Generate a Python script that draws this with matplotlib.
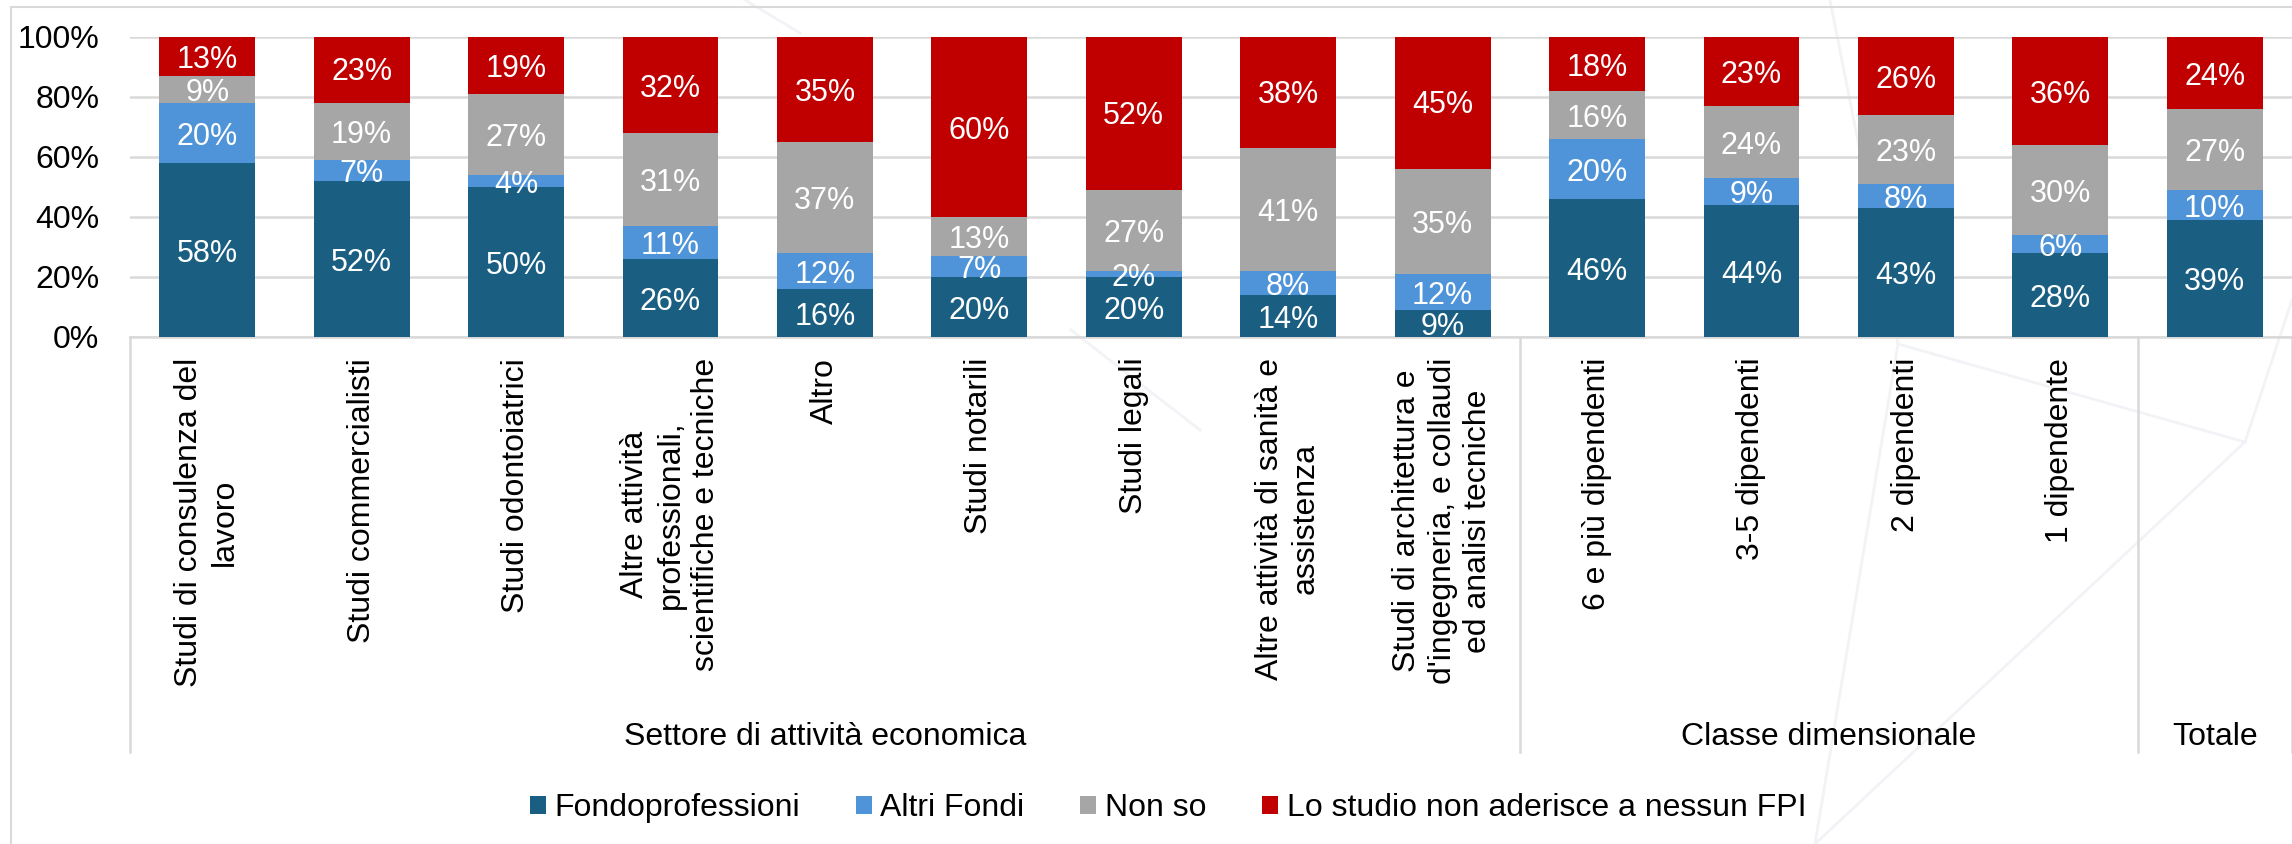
# librerie
import matplotlib.pyplot as plt
from matplotlib.patches import Rectangle
from matplotlib.lines import Line2D

plt.rcParams["font.family"] = ["Liberation Sans", "DejaVu Sans"]

# dati
categorie = [
    "Studi di consulenza del\nlavoro",
    "Studi commercialisti",
    "Studi odontoiatrici",
    "Altre attività\nprofessionali,\nscientifiche e tecniche",
    "Altro",
    "Studi notarili",
    "Studi legali",
    "Altre attività di sanità e\nassistenza",
    "Studi di architettura e\nd'ingegneria, e collaudi\ned analisi tecniche",
    "6 e più dipendenti",
    "3-5 dipendenti",
    "2 dipendenti",
    "1 dipendente",
    "",
]
fondoprofessioni = [58, 52, 50, 26, 16, 20, 20, 14, 9, 46, 44, 43, 28, 39]
altri_fondi = [20, 7, 4, 11, 12, 7, 2, 8, 12, 20, 9, 8, 6, 10]
non_so = [9, 19, 27, 31, 37, 13, 27, 41, 35, 16, 24, 23, 30, 27]
non_aderisce = [13, 23, 19, 32, 35, 60, 52, 38, 45, 18, 23, 26, 36, 24]

nomi_serie = ["Fondoprofessioni", "Altri Fondi", "Non so",
              "Lo studio non aderisce a nessun FPI"]
colori = ["#1A5F82", "#4F94D8", "#A6A6A6", "#C00000"]

gruppi = ["Settore di attività economica", "Classe dimensionale", "Totale"]
inizio_gruppi = [0, 9, 13]
fine_gruppi = [8, 12, 13]

W, H = 2292, 844
fig = plt.figure(figsize=(W / 100, H / 100), dpi=100)
ax = fig.add_axes([130 / W, 1 - 337 / H, (W - 130) / W, 300 / H])
ax.patch.set_visible(False)

# sfondo: rete di linee appena visibili
nodi = {"a": (1830, 0), "b": (1898, 344), "c": (2245, 442), "d": (1815, 844),
        "e": (2292, 300), "g": (1071, 330), "h": (1200, 430),
        "i": (745, 0), "j": (800, 33)}
segmenti = [("a", "b"), ("b", "c"), ("c", "d"), ("b", "d"), ("c", "e"),
            ("g", "h"), ("i", "j")]
for p, q in segmenti:
    (x1, y1), (x2, y2) = nodi[p], nodi[q]
    fig.add_artist(Line2D([x1 / W, x2 / W], [1 - y1 / H, 1 - y2 / H],
                          transform=fig.transFigure, color="#F1F3F6",
                          lw=2, zorder=-5))

# barre impilate
x = list(range(len(categorie)))
serie = [fondoprofessioni, altri_fondi, non_so, non_aderisce]
base = [0] * len(x)
barre = []
for valori, colore, nome in zip(serie, colori, nomi_serie):
    alto = [v / 100 for v in valori]
    b = ax.bar(x, alto, bottom=base, width=0.62, color=colore, label=nome,
               zorder=3)
    barre.append(b)
    for i, v in enumerate(valori):
        ax.text(i, base[i] + v / 200 - 0.012, f"{v}%", ha="center",
                va="center", color="white", fontsize=22, zorder=4)
    base = [base[i] + alto[i] for i in range(len(x))]

ax.set_xlim(-0.5, 13.5)
ax.set_ylim(0, 1)
ax.set_yticks([0, 0.2, 0.4, 0.6, 0.8, 1.0])
ax.set_yticklabels(["0%", "20%", "40%", "60%", "80%", "100%"], fontsize=23)
ax.yaxis.grid(True, color="#D9D9D9", lw=1.8, zorder=0)
ax.set_axisbelow(True)
for s in ax.spines.values():
    s.set_visible(False)
ax.tick_params(axis="y", length=0, pad=22)

ax.set_xticks(x)
ax.set_xticklabels(categorie, rotation=90, ha="center", va="top",
                   multialignment="center", fontsize=23, linespacing=1.25)
ax.tick_params(axis="x", length=0, pad=15)

# linee della zona categorie
ax.plot([-0.5, 13.5], [0, 0], color="#D9D9D9", lw=1.8, clip_on=False,
        zorder=2)
fondo = -(752 - 337) / 300
for xv in [-0.5, 8.5, 12.5, 13.5]:
    ax.plot([xv, xv], [0, fondo], color="#D9D9D9", lw=1.8, clip_on=False)

# etichette dei gruppi
for nome, i0, i1 in zip(gruppi, inizio_gruppi, fine_gruppi):
    ax.text((i0 + i1) / 2, -(737 - 337) / 300, nome, ha="center",
            va="center", fontsize=23)

fig.legend(handles=barre, labels=nomi_serie, loc="center",
           bbox_to_anchor=(1168 / W, 1 - 808 / H), ncol=4, frameon=False,
           fontsize=23, handlelength=0.5, handleheight=0.5,
           handletextpad=0.27, columnspacing=1.75)

# bordo esterno
fig.add_artist(Rectangle((11 / W, -0.1), 2.0, 1.1 - 7 / H,
                         transform=fig.transFigure, fill=False,
                         ec="#D9D9D9", lw=1.5))

fig.savefig("out.png", dpi=100, facecolor="white")
